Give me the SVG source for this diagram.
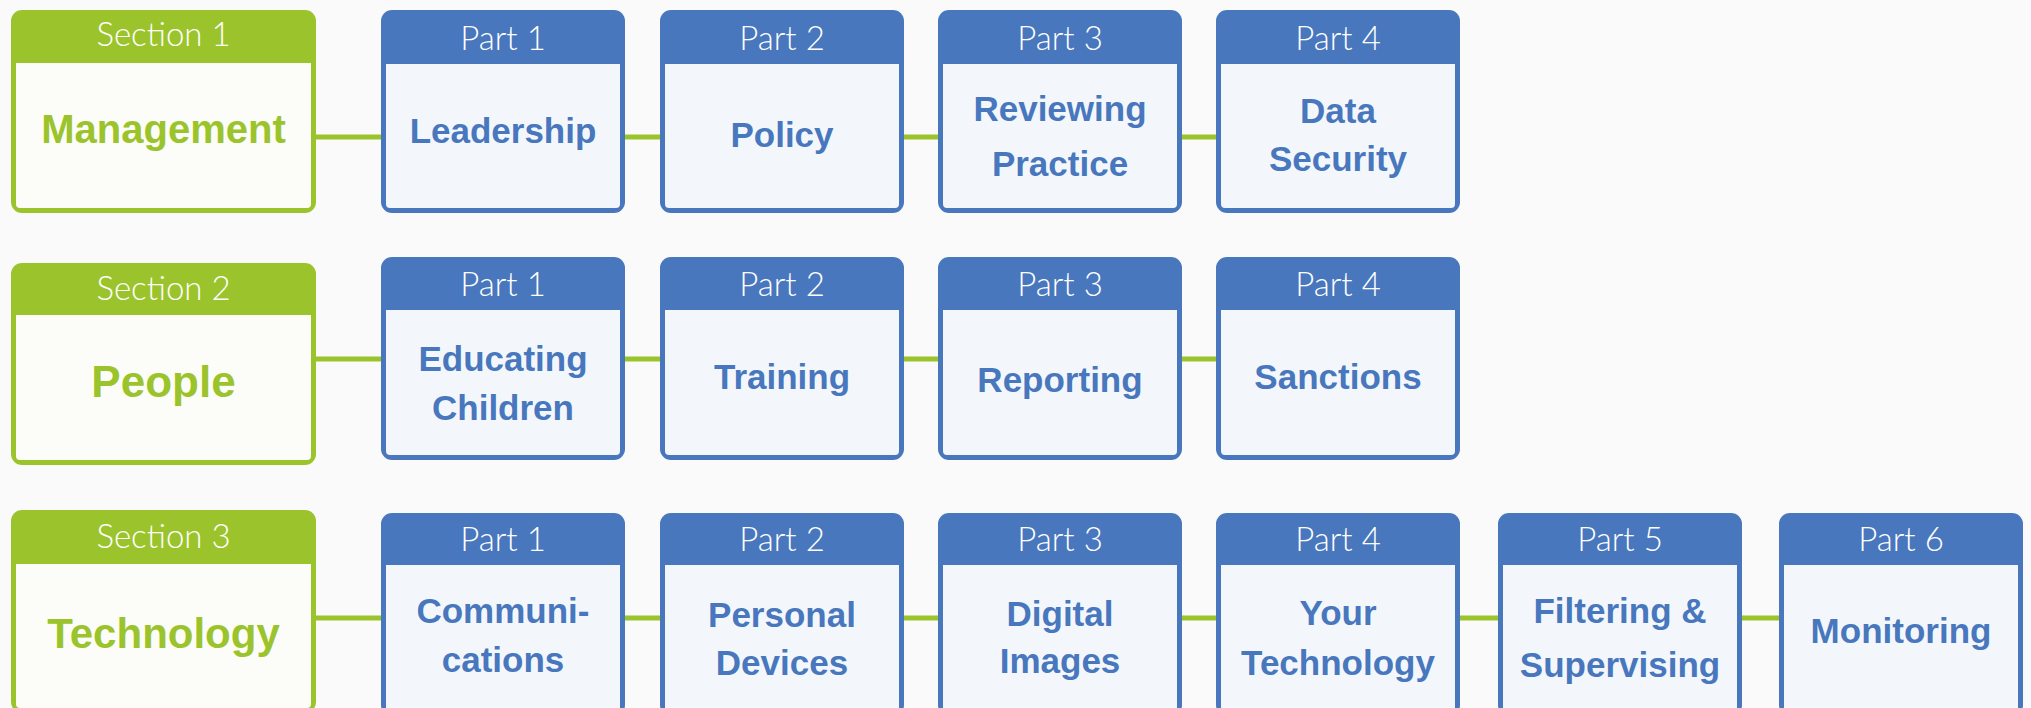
<svg xmlns="http://www.w3.org/2000/svg" width="2031" height="708" viewBox="0 0 2031 708">
<style>
.bg{fill:#fafafa}
.conn{stroke:#9bc42c;stroke-width:5;fill:none}
.sec-o{fill:#9bc42c}
.sec-i{fill:#fcfdf9}
.part-o{fill:#4877bd}
.part-i{fill:#f3f7fc}
.hd{font-family:Lato,"Liberation Sans",Arial,sans-serif;font-weight:300;font-size:33px;fill:#ffffff;text-anchor:middle}
.st{font-family:"Liberation Sans",Arial,sans-serif;font-weight:bold;fill:#9bc42c;text-anchor:middle}
.pt{font-family:"Liberation Sans",Arial,sans-serif;font-weight:bold;font-size:35px;fill:#4877bd;text-anchor:middle}
</style>
<rect class="bg" x="0" y="0" width="2031" height="708"/>
<g id="connectors">
<line class="conn" x1="314" y1="137" x2="383" y2="137"/>
<line class="conn" x1="623" y1="137" x2="662" y2="137"/>
<line class="conn" x1="902" y1="137" x2="940" y2="137"/>
<line class="conn" x1="1181" y1="137" x2="1218" y2="137"/>
<line class="conn" x1="314" y1="359" x2="383" y2="359"/>
<line class="conn" x1="623" y1="359" x2="662" y2="359"/>
<line class="conn" x1="902" y1="359" x2="940" y2="359"/>
<line class="conn" x1="1181" y1="359" x2="1218" y2="359"/>
<line class="conn" x1="314" y1="618" x2="383" y2="618"/>
<line class="conn" x1="623" y1="618" x2="662" y2="618"/>
<line class="conn" x1="902" y1="618" x2="940" y2="618"/>
<line class="conn" x1="1181" y1="618" x2="1218" y2="618"/>
<line class="conn" x1="1458" y1="618" x2="1500" y2="618"/>
<line class="conn" x1="1740" y1="618" x2="1781" y2="618"/>
</g>
<!-- Row 1 -->
<g id="section1">
<rect class="sec-o" x="11" y="10" width="305" height="203" rx="11"/>
<rect class="sec-i" x="16" y="63" width="295" height="145" rx="4"/>
<rect class="sec-i" x="16" y="63" width="295" height="8"/>
<text class="hd" x="163.5" y="46">Section 1</text>
<text class="st" x="163.5" y="143" font-size="40">Management</text>
</g>
<g id="r1p1">
<rect class="part-o" x="381" y="10" width="244" height="203" rx="11"/>
<rect class="part-i" x="386" y="64" width="234" height="144" rx="4"/>
<rect class="part-i" x="386" y="64" width="234" height="8"/>
<text class="hd" x="503" y="50">Part 1</text>
<text class="pt" x="503" y="143">Leadership</text>
</g>
<g id="r1p2">
<rect class="part-o" x="660" y="10" width="244" height="203" rx="11"/>
<rect class="part-i" x="665" y="64" width="234" height="144" rx="4"/>
<rect class="part-i" x="665" y="64" width="234" height="8"/>
<text class="hd" x="782" y="50">Part 2</text>
<text class="pt" x="782" y="147">Policy</text>
</g>
<g id="r1p3">
<rect class="part-o" x="938" y="10" width="244" height="203" rx="11"/>
<rect class="part-i" x="943" y="64" width="234" height="144" rx="4"/>
<rect class="part-i" x="943" y="64" width="234" height="8"/>
<text class="hd" x="1060" y="50">Part 3</text>
<text class="pt" x="1060" y="121">Reviewing</text>
<text class="pt" x="1060" y="176">Practice</text>
</g>
<g id="r1p4">
<rect class="part-o" x="1216" y="10" width="244" height="203" rx="11"/>
<rect class="part-i" x="1221" y="64" width="234" height="144" rx="4"/>
<rect class="part-i" x="1221" y="64" width="234" height="8"/>
<text class="hd" x="1338" y="50">Part 4</text>
<text class="pt" x="1338" y="123">Data</text>
<text class="pt" x="1338" y="171">Security</text>
</g>
<!-- Row 2 -->
<g id="section2">
<rect class="sec-o" x="11" y="263" width="305" height="202" rx="11"/>
<rect class="sec-i" x="16" y="315" width="295" height="145" rx="4"/>
<rect class="sec-i" x="16" y="315" width="295" height="8"/>
<text class="hd" x="163.5" y="300">Section 2</text>
<text class="st" x="163.5" y="397" font-size="44">People</text>
</g>
<g id="r2p1">
<rect class="part-o" x="381" y="257" width="244" height="203" rx="11"/>
<rect class="part-i" x="386" y="310" width="234" height="145" rx="4"/>
<rect class="part-i" x="386" y="310" width="234" height="8"/>
<text class="hd" x="503" y="296">Part 1</text>
<text class="pt" x="503" y="371">Educating</text>
<text class="pt" x="503" y="420">Children</text>
</g>
<g id="r2p2">
<rect class="part-o" x="660" y="257" width="244" height="203" rx="11"/>
<rect class="part-i" x="665" y="310" width="234" height="145" rx="4"/>
<rect class="part-i" x="665" y="310" width="234" height="8"/>
<text class="hd" x="782" y="296">Part 2</text>
<text class="pt" x="782" y="389">Training</text>
</g>
<g id="r2p3">
<rect class="part-o" x="938" y="257" width="244" height="203" rx="11"/>
<rect class="part-i" x="943" y="310" width="234" height="145" rx="4"/>
<rect class="part-i" x="943" y="310" width="234" height="8"/>
<text class="hd" x="1060" y="296">Part 3</text>
<text class="pt" x="1060" y="392">Reporting</text>
</g>
<g id="r2p4">
<rect class="part-o" x="1216" y="257" width="244" height="203" rx="11"/>
<rect class="part-i" x="1221" y="310" width="234" height="145" rx="4"/>
<rect class="part-i" x="1221" y="310" width="234" height="8"/>
<text class="hd" x="1338" y="296">Part 4</text>
<text class="pt" x="1338" y="389">Sanctions</text>
</g>
<!-- Row 3 -->
<g id="section3">
<rect class="sec-o" x="11" y="510" width="305" height="203" rx="11"/>
<rect class="sec-i" x="16" y="564" width="295" height="144" rx="4"/>
<rect class="sec-i" x="16" y="564" width="295" height="8"/>
<text class="hd" x="163.5" y="548">Section 3</text>
<text class="st" x="163.5" y="648" font-size="42">Technology</text>
</g>
<g id="r3p1">
<rect class="part-o" x="381" y="513" width="244" height="203" rx="11"/>
<rect class="part-i" x="386" y="565" width="234" height="146" rx="4"/>
<rect class="part-i" x="386" y="565" width="234" height="8"/>
<text class="hd" x="503" y="551">Part 1</text>
<text class="pt" x="503" y="623">Communi-</text>
<text class="pt" x="503" y="672">cations</text>
</g>
<g id="r3p2">
<rect class="part-o" x="660" y="513" width="244" height="203" rx="11"/>
<rect class="part-i" x="665" y="565" width="234" height="146" rx="4"/>
<rect class="part-i" x="665" y="565" width="234" height="8"/>
<text class="hd" x="782" y="551">Part 2</text>
<text class="pt" x="782" y="627">Personal</text>
<text class="pt" x="782" y="675">Devices</text>
</g>
<g id="r3p3">
<rect class="part-o" x="938" y="513" width="244" height="203" rx="11"/>
<rect class="part-i" x="943" y="565" width="234" height="146" rx="4"/>
<rect class="part-i" x="943" y="565" width="234" height="8"/>
<text class="hd" x="1060" y="551">Part 3</text>
<text class="pt" x="1060" y="626">Digital</text>
<text class="pt" x="1060" y="673">Images</text>
</g>
<g id="r3p4">
<rect class="part-o" x="1216" y="513" width="244" height="203" rx="11"/>
<rect class="part-i" x="1221" y="565" width="234" height="146" rx="4"/>
<rect class="part-i" x="1221" y="565" width="234" height="8"/>
<text class="hd" x="1338" y="551">Part 4</text>
<text class="pt" x="1338" y="625">Your</text>
<text class="pt" x="1338" y="675">Technology</text>
</g>
<g id="r3p5">
<rect class="part-o" x="1498" y="513" width="244" height="203" rx="11"/>
<rect class="part-i" x="1503" y="565" width="234" height="146" rx="4"/>
<rect class="part-i" x="1503" y="565" width="234" height="8"/>
<text class="hd" x="1620" y="551">Part 5</text>
<text class="pt" x="1620" y="623">Filtering &amp;</text>
<text class="pt" x="1620" y="677">Supervising</text>
</g>
<g id="r3p6">
<rect class="part-o" x="1779" y="513" width="244" height="203" rx="11"/>
<rect class="part-i" x="1784" y="565" width="234" height="146" rx="4"/>
<rect class="part-i" x="1784" y="565" width="234" height="8"/>
<text class="hd" x="1901" y="551">Part 6</text>
<text class="pt" x="1901" y="643">Monitoring</text>
</g>
</svg>
